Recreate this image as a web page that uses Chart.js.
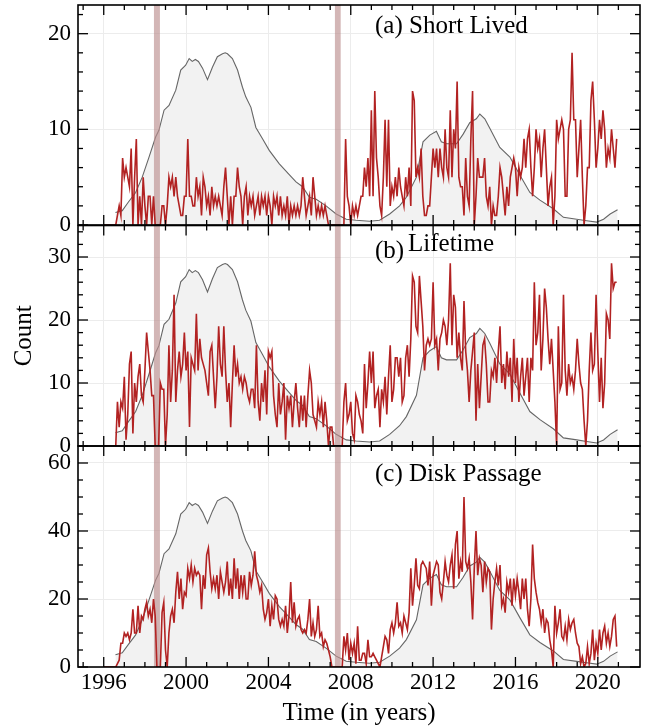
<!DOCTYPE html>
<html><head><meta charset="utf-8">
<script src="https://cdn.jsdelivr.net/npm/chart.js@4.4.1/dist/chart.umd.min.js"></script>
<style>
html,body{margin:0;padding:0;background:#fff;width:657px;height:728px;overflow:hidden}
canvas{position:absolute;left:0}
</style></head><body>
<canvas id="cA" width="657" height="232" style="top:0px"></canvas>
<canvas id="cB" width="657" height="232" style="top:220px"></canvas>
<canvas id="cC" width="657" height="288" style="top:440px"></canvas>
<script>
// ---------- data ----------
const startYear = 1996; // first monthly sample (Jan 1996)
const xMajorTicks = [1996, 2000, 2004, 2008, 2012, 2016, 2020];
const xMinorTicks = [1995, 1997, 1998, 1999, 2001, 2002, 2003, 2005, 2006, 2007, 2009, 2010, 2011, 2013, 2014, 2015, 2017, 2018, 2019, 2021];
const yMajorA = [0, 10, 20];
const yMinorA = [2, 4, 6, 8, 12, 14, 16, 18, 22];
const yMajorB = [0, 10, 20, 30];
const yMinorB = [2, 4, 6, 8, 12, 14, 16, 18, 22, 24, 26, 28, 32, 34];
const yMajorC = [0, 20, 40, 60];
const yMinorC = [5, 10, 15, 25, 30, 35, 45, 50, 55];
const bandStarts = [1998.44, 2007.23];
const bandEnds = [1998.73, 2007.51];

// monthly counts, Jan 1996 .. Dec 2020
const shortLived = [
0,0,0,0,0,0,0,0,
1,2,1,7,5,6,5,4,8,0,5,9,0,3,0,5,2,0,3,3,0,3,
0,0,0,0,
2,2,0,2,5,4,5,3,5,3,2,1,1,3,3,9,
3,3,2,2,5,3,4,1,5,4,2,3,1,4,2,3,2,3,2,1,
4,6,3,0,3,0,3,3,6,4,3,0,3,4,1,3,2,3,1,2,
3,1,3,2,3,1,3,2,0,3,2,3,1,3,1,2,1,3,0,2,
1,2,1,2,1,2,5,3,1,2,3,1,5,3,1,2,1,2,1,2,1,
0,0,0,0,0,0,0,0,0,0,
9,3,2,0,2,1,2,1,2,
3,3,6,4,7,3,12,3,14,7,
5,2,1,5,11,4,11,2,4,3,
5,3,6,4,3,2,5,3,6,
2,14,13,5,6,5,8,3,1,1,
2,2,5,8,6,8,5,8,6,5,
10,6,5,12,5,10,8,15,5,4,
4,1,7,3,2,9,14,0,3,
7,5,5,5,7,3,2,4,0,2,
1,1,3,6,5,3,1,4,2,5,
6,7,6,3,6,5,6,9,6,
9,10,6,3,6,10,8,9,5,8,
10,6,2,4,5,0,3,11,9,10,
11,10,3,3,10,11,18,11,11,
5,8,11,5,0,2,6,6,13,15,
11,6,8,11,9,12,10,6,8,7,
10,8,6,9];

const lifetime = [
0,0,0,0,0,0,0,0,
7,3,7,6,11,1,5,13,15,2,
10,7,11,13,8,7,12,18,15,12,
8,8,0,0,0,10,9,9,0,
5,16,7,12,24,7,12,15,11,13,
18,12,15,3,14,13,12,21,12,17,
14,13,12,10,8,15,16,11,6,11,
19,13,11,19,12,7,10,3,10,16,
11,13,10,11,9,11,10,8,7,
9,9,6,16,7,4,10,7,12,5,
15,14,15,8,5,3,10,5,7,
10,1,8,6,8,3,7,10,6,3,
8,4,8,3,8,12,10,5,4,
3,7,5,7,3,7,4,0,3,3,
0,0,0,0,0,0,
7,10,4,5,7,2,1,8,7,5,
4,2,13,6,10,15,10,15,6,8,
9,3,9,7,11,5,11,16,7,9,
14,14,11,14,7,8,14,16,11,17,
27,26,19,18,27,23,19,12,16,17,
16,17,26,16,17,12,17,18,20,
19,16,20,29,16,24,22,14,18,14,
12,23,15,12,7,12,15,18,4,13,
6,11,16,17,13,7,7,12,11,
14,10,15,19,10,13,9,15,11,14,
7,17,10,14,7,11,14,8,11,14,
7,14,12,26,16,18,24,12,17,25,
22,17,13,17,12,7,0,19,9,10,
24,12,8,13,10,11,9,12,17,
13,10,9,4,0,4,12,18,12,13,
24,15,7,14,6,10,21,20,17,
29,25,26,26];

const diskPassage = [
0,0,0,0,0,0,0,0,
1,2,7,7,10,9,10,8,10,17,
10,10,18,10,15,14,17,19,15,17,
13,20,15,0,0,0,16,19,5,0,
10,15,17,13,22,28,20,26,17,22,
21,29,26,30,25,29,27,28,27,
17,27,23,33,35,28,23,26,23,27,
20,28,25,22,25,31,21,26,20,32,
23,29,20,27,22,27,20,20,28,
24,27,34,27,25,22,24,17,14,16,
20,12,18,14,21,20,14,12,14,12,
18,10,15,25,13,19,12,14,15,
11,10,11,10,14,20,9,13,9,11,
18,9,10,6,8,7,5,3,0,0,
0,0,0,0,0,
9,5,10,2,7,4,7,1,12,2,
2,4,4,1,8,3,3,4,
3,2,1,0,3,6,9,8,4,11,
13,10,13,19,12,13,10,15,13,11,
16,29,18,24,32,24,23,30,31,30,
29,24,31,18,27,29,31,30,22,20,
25,31,27,25,30,33,23,36,40,26,
31,28,50,31,29,32,25,14,29,40,
27,32,30,22,31,25,29,28,11,20,
25,29,24,30,18,20,16,25,22,
26,18,26,21,26,22,17,26,20,26,
17,12,20,36,26,22,19,17,13,17,
10,14,13,8,5,0,18,10,13,
17,9,8,12,8,14,11,13,14,10,
7,6,1,3,0,1,6,1,4,11,
2,7,4,11,5,10,12,7,10,6,
9,14,15,6];

// smoothed sunspot number (grey curve)
const ssnYears = [1996.57,1996.9,1997.2,1997.55,1997.87,1998.2,1998.52,1998.68,1998.93,1999.17,1999.5,1999.74,1999.98,2000.15,2000.3,2000.45,2000.6,2000.8,2001.04,2001.28,2001.52,2001.77,2001.9,2002.01,2002.25,2002.5,2002.74,2002.9,2003.15,2003.39,2003.72,2004.04,2004.53,2005.0,2005.34,2005.66,2005.99,2006.32,2006.8,2007.29,2007.78,2008.26,2008.91,2009.4,2009.89,2010.37,2010.7,2011.19,2011.51,2011.84,2012.16,2012.4,2012.65,2013.14,2013.46,2013.78,2014.1,2014.27,2014.51,2014.76,2015.24,2015.73,2016.22,2016.7,2017.19,2017.84,2018.33,2018.98,2019.46,2019.95,2020.28,2020.6,2020.96];
const ssnValues = [13,15,24,34,50,71,92,99,120,125,141,162,167,174,171,173,171,164,152,165,176,179,180,179,174,162,144,134,123,102,90,78,64,53,45,40,29,27,20,11.5,6,5,4,5,11.5,20,29,50,87,94,98,87,85,85,95,107,111,116,111,101,81,71,52,34,26,17,8,6,4.5,3,6,11.5,16];

// ---------- rendering ----------
Chart.defaults.font.family = "'Liberation Serif', 'Times New Roman', serif";
Chart.defaults.color = '#000';

const zeroPad = s => { s.paddingTop = 0; s.paddingBottom = 0; s.paddingLeft = 0; s.paddingRight = 0; };

const framePlugin = {
  id: 'frameTicks',
  afterDatasetDraw(chart, args) {
    if (args.index !== 0) return;
    const {ctx, chartArea: a, scales: {x}} = chart;
    ctx.save();
    ctx.fillStyle = 'rgba(188,143,143,0.65)';
    bandStarts.forEach((s, i) => {
      const x0 = x.getPixelForValue(s), x1 = x.getPixelForValue(bandEnds[i]);
      ctx.fillRect(x0, a.top, x1 - x0, a.bottom - a.top);
    });
    ctx.restore();
  },
  afterDraw(chart, args, opts) {
    const {ctx, chartArea: a, scales: {x, y}} = chart;
    ctx.save();
    ctx.strokeStyle = '#000';
    ctx.lineWidth = 1.3;
    const line = (x0, y0, x1, y1) => { ctx.beginPath(); ctx.moveTo(x0, y0); ctx.lineTo(x1, y1); ctx.stroke(); };
    const hx = (v, len) => {
      const p = x.getPixelForValue(v);
      if (p < a.left + 0.5 || p > a.right - 0.5) return;
      line(p, a.bottom, p, a.bottom - len); line(p, a.top, p, a.top + len);
    };
    const hy = (v, len) => {
      const p = y.getPixelForValue(v);
      if (p < a.top + 0.5 || p > a.bottom + 0.5) return;
      line(a.left, p, a.left + len, p); line(a.right, p, a.right - len, p);
    };
    xMajorTicks.forEach(v => hx(v, 10));
    xMinorTicks.forEach(v => hx(v, 5));
    opts.yMajor.forEach(v => hy(v, 10));
    opts.yMinor.forEach(v => hy(v, 5));
    ctx.lineWidth = 1.6;
    ctx.strokeRect(a.left, a.top, a.right - a.left, a.bottom - a.top);
    ctx.fillStyle = '#000';
    ctx.font = "25px 'Liberation Serif', 'Times New Roman', serif";
    ctx.textBaseline = 'alphabetic';
    ctx.textAlign = 'left';
    opts.labels.forEach(l => ctx.fillText(l.text, l.x, l.y));
    ctx.restore();
  }
};

function makeChart(id, cfg) {
  const redPts = cfg.counts.map((v, i) => ({x: startYear + i / 12, y: v}));
  const grayPts = ssnYears.map((t, i) => ({x: t, y: ssnValues[i]}));
  return new Chart(document.getElementById(id), {
    type: 'line',
    data: {datasets: [
      {data: grayPts, yAxisID: 'y2', borderColor: '#666666', borderWidth: 1.1, backgroundColor: '#f2f2f2', fill: 'origin', pointRadius: 0, tension: 0, order: 2},
      {data: redPts, yAxisID: 'y', borderColor: '#b22222', borderWidth: 1.6, pointRadius: 0, tension: 0, fill: false, order: 1}
    ]},
    options: {
      responsive: false, animation: false, events: [],
      layout: {padding: {top: cfg.padTop, bottom: cfg.padBottom, left: 0, right: 17}},
      plugins: {
        legend: {display: false}, tooltip: {enabled: false},
        frameTicks: {yMajor: cfg.yMajor, yMinor: cfg.yMinor, labels: cfg.labels}
      },
      scales: {
        x: {
          type: 'linear', min: 1994.75, max: 2022.05,
          afterBuildTicks: s => { s.ticks = xMajorTicks.map(v => ({value: v})); },
          afterFit: s => { s.height = cfg.xHeight; zeroPad(s); },
          grid: {color: '#ececec', lineWidth: 1, drawTicks: false},
          border: {display: false},
          ticks: {display: cfg.showX, font: {size: 23}, color: '#000', padding: 2, maxRotation: 0, autoSkip: false, callback: v => String(v)},
          title: {display: cfg.showX, text: 'Time (in years)', font: {size: 25}, color: '#000', padding: {top: 0, bottom: 0}}
        },
        y: {
          type: 'linear', min: 0, max: cfg.yMax,
          afterBuildTicks: s => { s.ticks = cfg.yMajor.map(v => ({value: v})); },
          afterFit: s => { s.width = 78; zeroPad(s); },
          grid: {color: '#ececec', lineWidth: 1, drawTicks: false},
          border: {display: false},
          ticks: {font: {size: 23}, color: '#000', padding: 7, callback: v => String(v)},
          title: {display: cfg.showY, text: 'Count', font: {size: 25}, color: '#000', padding: {top: 9, bottom: 0}}
        },
        y2: {type: 'linear', display: false, min: 0, max: cfg.ssnMax}
      }
    },
    plugins: [framePlugin]
  });
}

makeChart('cA', {counts: shortLived, yMax: 23, ssnMax: 230, yMajor: yMajorA, yMinor: yMinorA,
  padTop: 5, padBottom: 7, xHeight: 0, showX: false, showY: false,
  labels: [{text: '(a) Short Lived', x: 375, y: 33}]});
makeChart('cB', {counts: lifetime, yMax: 35, ssnMax: 217.5, yMajor: yMajorB, yMinor: yMinorB,
  padTop: 5.5, padBottom: 6, xHeight: 0, showX: false, showY: true,
  labels: [{text: '(b)', x: 375, y: 38}, {text: 'Lifetime', x: 408, y: 31}]});
makeChart('cC', {counts: diskPassage, yMax: 65, ssnMax: 234, yMajor: yMajorC, yMinor: yMinorC,
  padTop: 6, padBottom: 0, xHeight: 61, showX: true, showY: false,
  labels: [{text: '(c) Disk Passage', x: 375, y: 41}]});
</script>
</body></html>
